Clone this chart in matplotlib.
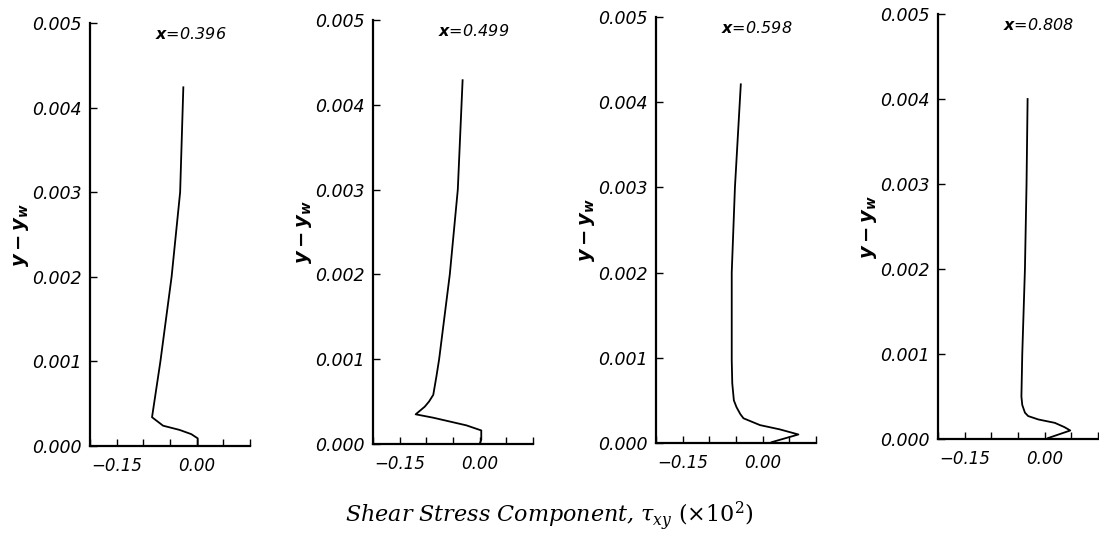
import matplotlib
matplotlib.use("Agg")
import matplotlib.pyplot as plt

plt.rcParams['mathtext.fontset'] = 'dejavusans'

stations = ["0.396", "0.499", "0.598", "0.808"]

# shear stress profiles (tau_xy x10^2) vs y - y_w
tau_1 = [-0.025, -0.031, -0.047, -0.068, -0.0837, -0.063, -0.032, -0.010, 0.002, 0.002]
yw_1 = [0.00424, 0.003, 0.002, 0.001, 0.00034, 0.00024, 0.00019, 0.00014, 0.00009, 0.0]

tau_2 = [-0.032, -0.041, -0.056, -0.076, -0.081, -0.087, -0.095, -0.103, -0.120, -0.087, -0.025, 0.003, 0.003, 0.0]
yw_2 = [0.00429, 0.003, 0.002, 0.001, 0.0008, 0.00058, 0.0005, 0.00044, 0.00035, 0.00031, 0.00022, 0.00016, 0.00005, 0.0]

tau_3 = [-0.041, -0.052, -0.058, -0.058, -0.057, -0.054, -0.049, -0.042, -0.036, -0.005, 0.032, 0.067, 0.017]
yw_3 = [0.00421, 0.003, 0.002, 0.00097, 0.0007, 0.0005, 0.00042, 0.00034, 0.00029, 0.00021, 0.00016, 0.0001, 0.00001]

tau_4 = [-0.032, -0.034, -0.037, -0.042, -0.0436, -0.042, -0.037, -0.031, -0.012, 0.019, 0.037, 0.048, 0.006]
yw_4 = [0.004, 0.003, 0.002, 0.001, 0.0005, 0.0004, 0.00031, 0.00027, 0.00023, 0.00019, 0.00014, 0.0001, 0.00001]

profiles = [(tau_1, yw_1), (tau_2, yw_2), (tau_3, yw_3), (tau_4, yw_4)]

xticks = [-0.20, -0.15, -0.10, -0.05, 0.00, 0.05, 0.10]
xticklabels = ["", "\u22120.15", "", "", "0.00", "", ""]
yticks = [0.000, 0.001, 0.002, 0.003, 0.004, 0.005]
yticklabels = ["0.000", "0.001", "0.002", "0.003", "0.004", "0.005"]

W, H = 1099, 550
fig = plt.figure(figsize=(W / 100, H / 100), dpi=100)

# axes boxes in pixels: left, top, right, bottom (scanned plot is slightly tilted)
boxes = [(90, 23, 250, 446), (373, 20, 533, 444), (656, 17, 816, 443), (938, 14, 1098, 439)]

for (l, t, r, b), (tau, yw), st in zip(boxes, profiles, stations):
    ax = fig.add_axes([l / W, 1 - b / H, (r - l) / W, (b - t) / H])
    ax.plot(tau, yw, color="black", lw=1.3)
    ax.set_xlim(-0.20, 0.10)
    ax.set_ylim(0.0, 0.005)
    ax.spines["top"].set_visible(False)
    ax.spines["right"].set_visible(False)
    ax.spines["left"].set_linewidth(1.6)
    ax.spines["bottom"].set_linewidth(1.6)
    ax.set_xticks(xticks)
    ax.set_xticklabels(xticklabels, fontstyle="italic", fontsize=12)
    ax.set_yticks(yticks)
    ax.set_yticklabels(yticklabels, fontstyle="italic", fontsize=12.5)
    ax.tick_params(direction="in", length=5, width=1.0, pad=6)
    ax.tick_params(axis="x", pad=8)
    ax.set_ylabel(r"$\mathbfit{y-y_w}$", fontsize=14, labelpad=1)
    ax.text(0.63, 0.975, r"$\mathbfit{x}$=" + st, transform=ax.transAxes,
            ha="center", va="center", fontsize=11.5, fontstyle="italic")
    ax.patch.set_alpha(0)

fig.text(0.5, 0.062, r"Shear Stress Component, $\tau_{xy}$ $(\times 10^2)$",
         ha="center", va="center", fontsize=16, family="DejaVu Serif",
         fontstyle="italic", math_fontfamily="dejavuserif")

fig.savefig("out.png", dpi=100)
